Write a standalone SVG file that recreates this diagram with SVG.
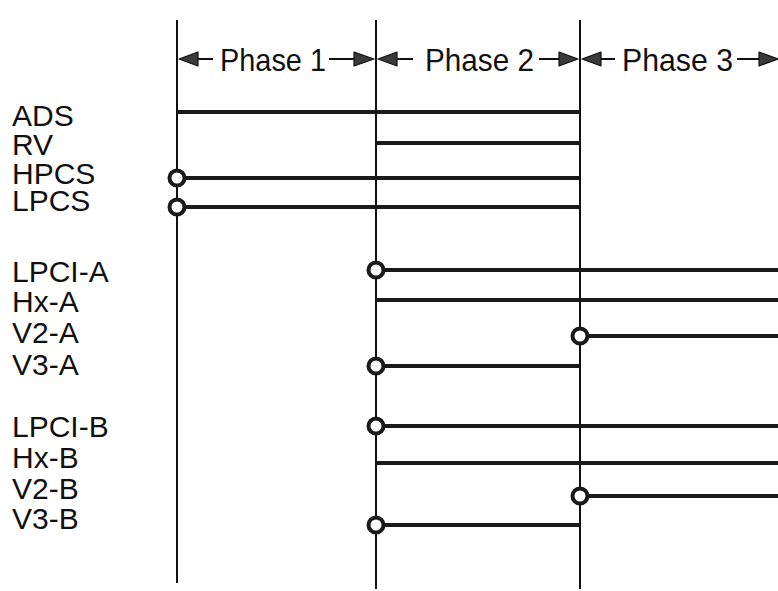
<svg xmlns="http://www.w3.org/2000/svg" width="778" height="591" viewBox="0 0 778 591">
<style>
text{font-family:"Liberation Sans",Arial,Helvetica,sans-serif;fill:#111}
.lbl{font-size:30px}
.ph{font-size:32px}
.v{stroke:#111;stroke-width:2;fill:none}
.bar{stroke:#1a1a1a;stroke-width:4;fill:none}
.dot{fill:#fff;stroke:#1a1a1a;stroke-width:4}
.ar{fill:#3a3a3a;stroke:#111;stroke-width:1.2;stroke-linejoin:round}
.al{stroke:#111;stroke-width:2;fill:none}
</style>
<rect width="778" height="591" fill="#fff"/>
<g id="phase-boundaries">
<line class="v" x1="177" y1="20" x2="177" y2="583"/>
<line class="v" x1="376" y1="20" x2="376" y2="589"/>
<line class="v" x1="580" y1="20" x2="580" y2="589"/>
</g>
<g id="phase1">
<polygon class="ar" points="179,59 198,52 198,66"/>
<line class="al" x1="198" y1="59" x2="213" y2="59"/>
<text class="ph" x="220" y="71" textLength="106" lengthAdjust="spacingAndGlyphs">Phase 1</text>
<line class="al" x1="329" y1="59" x2="354" y2="59"/>
<polygon class="ar" points="374,59 354,52 354,66"/>
</g>
<g id="phase2">
<polygon class="ar" points="378,59 397,52 397,66"/>
<line class="al" x1="397" y1="59" x2="413" y2="59"/>
<text class="ph" x="425" y="71" textLength="109" lengthAdjust="spacingAndGlyphs">Phase 2</text>
<line class="al" x1="539" y1="59" x2="559" y2="59"/>
<polygon class="ar" points="578,59 559,52 559,66"/>
</g>
<g id="phase3">
<polygon class="ar" points="582,59 601,52 601,66"/>
<line class="al" x1="601" y1="59" x2="615" y2="59"/>
<text class="ph" x="622" y="71" textLength="111" lengthAdjust="spacingAndGlyphs">Phase 3</text>
<line class="al" x1="737" y1="59" x2="759" y2="59"/>
<polygon class="ar" points="778,59 759,52 759,66"/>
</g>
<g id="labels">
<text class="lbl" x="12" y="126">ADS</text>
<text class="lbl" x="12" y="155">RV</text>
<text class="lbl" x="12" y="184">HPCS</text>
<text class="lbl" x="12" y="211">LPCS</text>
<text class="lbl" x="12" y="282">LPCI-A</text>
<text class="lbl" x="12" y="312">Hx-A</text>
<text class="lbl" x="12" y="343">V2-A</text>
<text class="lbl" x="12" y="375">V3-A</text>
<text class="lbl" x="12" y="437">LPCI-B</text>
<text class="lbl" x="12" y="468">Hx-B</text>
<text class="lbl" x="12" y="499">V2-B</text>
<text class="lbl" x="12" y="529">V3-B</text>
</g>
<g id="connectors">
<line class="bar" x1="177" y1="112" x2="580" y2="112"/>
<line class="bar" x1="376" y1="143" x2="580" y2="143"/>
<line class="bar" x1="177" y1="178" x2="580" y2="178"/>
<line class="bar" x1="177" y1="207" x2="580" y2="207"/>
<line class="bar" x1="376" y1="270" x2="778" y2="270"/>
<line class="bar" x1="376" y1="300" x2="778" y2="300"/>
<line class="bar" x1="580" y1="336" x2="778" y2="336"/>
<line class="bar" x1="376" y1="366" x2="580" y2="366"/>
<line class="bar" x1="376" y1="426" x2="778" y2="426"/>
<line class="bar" x1="376" y1="463" x2="778" y2="463"/>
<line class="bar" x1="580" y1="496" x2="778" y2="496"/>
<line class="bar" x1="376" y1="525" x2="580" y2="525"/>
</g>
<g id="start-points">
<circle class="dot" cx="177" cy="178" r="7.5"/>
<circle class="dot" cx="177" cy="207" r="7.5"/>
<circle class="dot" cx="376" cy="270" r="7.5"/>
<circle class="dot" cx="580" cy="336" r="7.5"/>
<circle class="dot" cx="376" cy="366" r="7.5"/>
<circle class="dot" cx="376" cy="426" r="7.5"/>
<circle class="dot" cx="580" cy="496" r="7.5"/>
<circle class="dot" cx="376" cy="525" r="7.5"/>
</g>
</svg>
